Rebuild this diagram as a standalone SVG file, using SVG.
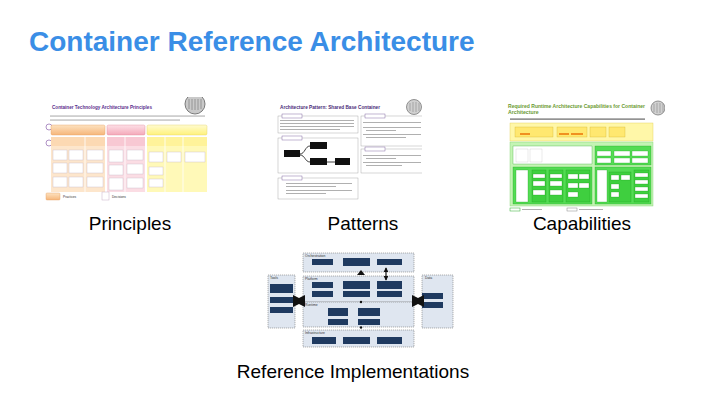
<svg xmlns="http://www.w3.org/2000/svg" width="720" height="405" viewBox="0 0 720 405">
<defs>
<style>
.title{font-family:"Liberation Sans",Arial,sans-serif;font-weight:bold;font-size:28px;fill:#3a8ee6}
.cap{font-family:"Liberation Sans",Arial,sans-serif;font-size:19px;fill:#000;text-anchor:middle}
.tiny{font-family:"Liberation Sans",Arial,sans-serif;font-size:3.4px;fill:#333}
.tl{font-family:"Liberation Sans",Arial,sans-serif;font-size:3.2px;fill:#333}
.gl{fill:#b0b0b0}
.wb{fill:#fff;stroke:#c8b8c8;stroke-width:0.4}
.pan{fill:#dfe6f0;stroke:#666;stroke-width:0.5;stroke-dasharray:1.2 0.8}
.nb{fill:#1f3a60}
.sec{fill:#fff;stroke:#9a9a9a;stroke-width:0.4}
.blk{fill:#111}
.gb{fill:#3fcf3f;stroke:#1a9a1a;stroke-width:0.3}
.gw{fill:#fff;stroke:#1a9a1a;stroke-width:0.3}
.cn{stroke:#111;stroke-width:0.8;fill:none}
</style>
<linearGradient id="gOr" x1="0" y1="0" x2="0" y2="1"><stop offset="0" stop-color="#fde2c0"/><stop offset="1" stop-color="#f6b67a"/></linearGradient>
<linearGradient id="gPk" x1="0" y1="0" x2="0" y2="1"><stop offset="0" stop-color="#fde0e6"/><stop offset="1" stop-color="#f4a9b9"/></linearGradient>
<linearGradient id="gYl" x1="0" y1="0" x2="0" y2="1"><stop offset="0" stop-color="#fffbd0"/><stop offset="1" stop-color="#fff27a"/></linearGradient>
<marker id="ah" viewBox="0 0 6 6" refX="5" refY="3" markerWidth="4" markerHeight="4" orient="auto-start-reverse"><path d="M0,0L6,3L0,6z" fill="#111"/></marker>
<clipPath id="c1"><rect x="40" y="97" width="170" height="110"/></clipPath>
<clipPath id="c2"><rect x="270" y="99" width="152" height="110"/></clipPath>
<clipPath id="c3"><rect x="500" y="99" width="165" height="115"/></clipPath>
</defs>
<rect width="720" height="405" fill="#fff"/>
<text class="title" x="29" y="51">Container Reference Architecture</text>

<!-- Thumbnail 1: Principles -->
<g id="principles" clip-path="url(#c1)">
<text x="52" y="109" font-family="Liberation Sans,Arial,sans-serif" font-size="5" font-weight="bold" fill="#5a2d8c" textLength="100" lengthAdjust="spacingAndGlyphs">Container Technology Architecture Principles</text>
<circle cx="195" cy="104" r="10" fill="#c9c9c9" stroke="#7a7a7a" stroke-width="1"/>
<path d="M189,99v10M192,99v11M195,99v11M198,99v11M201,99v10" stroke="#888" stroke-width="0.8"/>
<rect x="50" y="115.5" width="155" height="1.1" class="gl"/>
<rect x="50" y="119.5" width="130" height="1.1" class="gl"/>
<circle cx="49" cy="127" r="3" fill="#fff" stroke="#7a4aa0" stroke-width="0.6"/>
<circle cx="49" cy="143" r="3" fill="#fff" stroke="#7a4aa0" stroke-width="0.6"/>
<rect x="51" y="125" width="54" height="10" rx="1.5" fill="url(#gOr)" stroke="#e5a060" stroke-width="0.4"/>
<rect x="107" y="125" width="38" height="10" rx="1.5" fill="url(#gPk)" stroke="#e08898" stroke-width="0.4"/>
<rect x="147" y="125" width="60" height="10" rx="1.5" fill="url(#gYl)" stroke="#e0d060" stroke-width="0.4"/>
<rect x="51" y="137" width="54" height="55" fill="#fde6cc"/>
<rect x="107" y="137" width="38" height="55" fill="#fbdde4"/>
<rect x="147" y="137" width="60" height="55" fill="#fff9b8"/>
<path d="M85,137v55M125,137v55M165,137v55M183,137v55" stroke="#fff" stroke-width="0.8"/>
<rect x="51" y="137" width="54" height="9" fill="#fcd9b3"/>
<rect x="107" y="137" width="38" height="9" fill="#f8c8d3"/>
<rect x="147" y="137" width="60" height="9" fill="#fff39a"/>
<path d="M85,137v9M125,137v9M165,137v9M183,137v9" stroke="#fff" stroke-width="0.8"/>
<rect x="53" y="150" width="14" height="10" class="wb"/><rect x="69" y="150" width="14" height="10" class="wb"/><rect x="87" y="150" width="16" height="10" class="wb"/>
<rect x="53" y="163" width="14" height="10" class="wb"/><rect x="69" y="163" width="14" height="10" class="wb"/><rect x="87" y="163" width="16" height="10" class="wb"/>
<rect x="53" y="177" width="14" height="10" class="wb"/><rect x="69" y="177" width="14" height="10" class="wb"/><rect x="87" y="177" width="16" height="10" class="wb"/>
<rect x="109" y="150" width="14" height="12" class="wb"/><rect x="127" y="150" width="16" height="10" class="wb"/>
<rect x="109" y="165" width="14" height="10" class="wb"/><rect x="127" y="164" width="16" height="10" class="wb"/>
<rect x="109" y="178" width="14" height="12" class="wb"/><rect x="127" y="178" width="16" height="10" class="wb"/>
<rect x="149" y="152" width="14" height="10" class="wb"/><rect x="167" y="152" width="14" height="10" class="wb"/><rect x="185" y="152" width="20" height="10" class="wb"/>
<rect x="149" y="167" width="14" height="8" class="wb"/><rect x="149" y="179" width="14" height="8" class="wb"/>
<rect x="46" y="193" width="14" height="7" rx="1" fill="url(#gOr)" stroke="#e5a060" stroke-width="0.4"/>
<text class="tl" x="63" y="198">Practices</text>
<rect x="102" y="192" width="7" height="8" fill="#fff" stroke="#c8b0c8" stroke-width="0.5"/>
<text class="tl" x="112" y="198">Decisions</text>
</g>

<!-- Thumbnail 2: Patterns -->
<g id="patterns" clip-path="url(#c2)">
<text x="280" y="109" font-family="Liberation Sans,Arial,sans-serif" font-size="5" font-weight="bold" fill="#4a2a78" textLength="100" lengthAdjust="spacingAndGlyphs">Architecture Pattern: Shared Base Container</text>
<circle cx="414" cy="107" r="7.5" fill="#d0d0d0" stroke="#7a7a7a" stroke-width="0.8"/>
<path d="M410,103v8M413,102v10M416,102v10M419,103v8" stroke="#888" stroke-width="0.6"/>
<rect x="278" y="116" width="80" height="17" class="sec"/>
<rect x="282" y="114" width="20" height="4" fill="#fff" stroke="#6a4a90" stroke-width="0.4"/>
<rect x="280" y="120" width="74" height="1" class="gl"/><rect x="280" y="123" width="74" height="1" class="gl"/><rect x="280" y="126" width="74" height="1" class="gl"/><rect x="280" y="129" width="60" height="1" class="gl"/>
<rect x="278" y="138" width="80" height="35" class="sec"/>
<rect x="282" y="136" width="20" height="4" fill="#fff" stroke="#6a4a90" stroke-width="0.4"/>
<rect x="278" y="178" width="80" height="21" class="sec"/>
<rect x="282" y="176" width="20" height="4" fill="#fff" stroke="#6a4a90" stroke-width="0.4"/>
<rect x="286" y="183" width="66" height="1" class="gl"/><rect x="286" y="186" width="50" height="1" class="gl"/><rect x="286" y="190" width="66" height="1" class="gl"/><rect x="286" y="193" width="40" height="1" class="gl"/>
<rect x="361" y="116" width="62" height="30" class="sec"/>
<rect x="365" y="114" width="20" height="4" fill="#fff" stroke="#6a4a90" stroke-width="0.4"/>
<rect x="363" y="122" width="58" height="1" class="gl"/><rect x="363" y="127" width="58" height="1" class="gl"/><rect x="366" y="130" width="30" height="1" class="gl"/><rect x="363" y="134" width="58" height="1" class="gl"/><rect x="366" y="137" width="40" height="1" class="gl"/>
<rect x="361" y="149" width="62" height="24" class="sec"/>
<rect x="365" y="147" width="20" height="4" fill="#fff" stroke="#6a4a90" stroke-width="0.4"/>
<rect x="363" y="155" width="58" height="1" class="gl"/><rect x="366" y="158" width="30" height="1" class="gl"/><rect x="363" y="162" width="58" height="1" class="gl"/><rect x="366" y="165" width="36" height="1" class="gl"/>
<g id="pat-connectors">
<path class="cn" d="M300,154C305,154 305,146 310,146"/>
<path class="cn" d="M300,155C305,155 305,162 310,162"/>
<path class="cn" d="M327,162H335"/>
</g>
<rect x="284" y="150" width="16" height="7" class="blk"/>
<rect x="310" y="142" width="17" height="7" class="blk"/>
<rect x="310" y="158" width="17" height="7" class="blk"/>
<rect x="335" y="158" width="15" height="7" class="blk"/>
</g>

<!-- Thumbnail 3: Capabilities -->
<g id="capabilities" clip-path="url(#c3)">
<text x="508" y="108" font-family="Liberation Sans,Arial,sans-serif" font-size="5.2" font-weight="bold" fill="#6a9a30" textLength="137" lengthAdjust="spacingAndGlyphs">Required Runtime Architecture Capabilities for Container</text>
<text x="508" y="113.5" font-family="Liberation Sans,Arial,sans-serif" font-size="5.2" font-weight="bold" fill="#6a9a30">Architecture</text>
<circle cx="658" cy="108" r="7" fill="#d0d0d0" stroke="#7a7a7a" stroke-width="0.8"/>
<path d="M654,104v8M657,103v10M660,103v10M663,104v8" stroke="#888" stroke-width="0.6"/>
<rect x="510" y="118.5" width="135" height="1.2" fill="#666"/>
<rect x="510" y="123" width="143" height="18" fill="#fff7a8" stroke="#e0cc50" stroke-width="0.4"/>
<rect x="515" y="127" width="38" height="10" fill="#ffe870" stroke="#c8a820" stroke-width="0.3"/>
<rect x="520" y="133" width="10" height="2" fill="#f09020"/>
<rect x="557" y="127" width="30" height="10" fill="#ffe870" stroke="#c8a820" stroke-width="0.3"/>
<rect x="559" y="133" width="10" height="2" fill="#f09020"/><rect x="571" y="133" width="12" height="2" fill="#f09020"/>
<rect x="590" y="127" width="16" height="10" fill="#ffe870" stroke="#c8a820" stroke-width="0.3"/>
<rect x="609" y="127" width="16" height="10" fill="#ffe870" stroke="#c8a820" stroke-width="0.3"/>
<rect x="510" y="142" width="143" height="64" fill="#c4f4b4" stroke="#7ad06a" stroke-width="0.4"/>
<rect x="513" y="146" width="79" height="18" class="gw"/>
<rect x="516" y="149" width="12" height="13" fill="#fff" stroke="#bbb" stroke-width="0.3"/>
<rect x="530" y="149" width="12" height="13" fill="#fff" stroke="#bbb" stroke-width="0.3"/>
<rect x="595" y="146" width="56" height="19" fill="#54dc54" stroke="#1a9a1a" stroke-width="0.3"/>
<rect x="597" y="151" width="14" height="5" class="gw"/><rect x="597" y="158" width="14" height="5" class="gw"/>
<rect x="614" y="151" width="16" height="5" class="gw"/><rect x="614" y="158" width="16" height="5" class="gw"/>
<rect x="632" y="151" width="16" height="5" class="gw"/><rect x="632" y="158" width="16" height="5" class="gw"/>
<rect x="513" y="167" width="79" height="37" fill="#54dc54" stroke="#1a9a1a" stroke-width="0.3"/>
<rect x="516" y="170" width="12" height="32" class="gw"/>
<rect x="532" y="170" width="14" height="32" class="gb"/>
<rect x="533" y="174" width="12" height="4" class="gw"/><rect x="533" y="181" width="12" height="5" class="gw"/><rect x="533" y="190" width="12" height="5" class="gw"/>
<rect x="549" y="170" width="14" height="32" class="gb"/>
<rect x="550" y="174" width="12" height="4" class="gw"/><rect x="550" y="181" width="12" height="5" class="gw"/><rect x="550" y="190" width="12" height="5" class="gw"/>
<rect x="566" y="170" width="24" height="32" class="gb"/>
<rect x="568" y="174" width="10" height="5" class="gw"/><rect x="579" y="174" width="10" height="5" class="gw"/><rect x="568" y="183" width="10" height="5" class="gw"/><rect x="579" y="183" width="10" height="5" class="gw"/><rect x="568" y="192" width="10" height="5" class="gw"/>
<rect x="595" y="167" width="56" height="37" fill="#54dc54" stroke="#1a9a1a" stroke-width="0.3"/>
<rect x="597" y="170" width="10" height="32" class="gw"/>
<rect x="609" y="172" width="22" height="30" class="gb"/>
<rect x="611" y="175" width="8" height="5" class="gw"/><rect x="621" y="175" width="9" height="5" class="gw"/><rect x="611" y="184" width="8" height="5" class="gw"/><rect x="611" y="192" width="8" height="5" class="gw"/>
<rect x="634" y="170" width="15" height="32" class="gb"/>
<rect x="635" y="173" width="13" height="4" class="gw"/><rect x="635" y="180" width="13" height="4" class="gw"/><rect x="635" y="187" width="13" height="4" class="gw"/><rect x="635" y="194" width="13" height="4" class="gw"/>
<rect x="510" y="208" width="10" height="3" fill="#fff" stroke="#2aaa2a" stroke-width="0.5"/>
<rect x="522" y="209" width="20" height="1" class="gl"/>
<rect x="567" y="208" width="10" height="3" fill="#fff" stroke="#888" stroke-width="0.5"/>
<rect x="579" y="209" width="24" height="1" class="gl"/>
</g>

<!-- Thumbnail 4: Reference Implementations -->
<g id="reference-implementations">
<rect x="303" y="253" width="111" height="19" class="pan"/>
<text class="tiny" x="305" y="257">Orchestration</text>
<rect x="312" y="259" width="21" height="6" class="nb"/><rect x="343" y="258" width="27" height="8" class="nb"/><rect x="377" y="259" width="25" height="6" class="nb"/>
<rect x="303" y="276" width="111" height="26" class="pan"/>
<text class="tiny" x="305" y="280">Platform</text>
<rect x="312" y="282" width="21" height="6" class="nb"/><rect x="343" y="281" width="27" height="8" class="nb"/><rect x="377" y="281" width="25" height="8" class="nb"/>
<rect x="312" y="291" width="21" height="6" class="nb"/><rect x="343" y="291" width="27" height="6" class="nb"/><rect x="377" y="291" width="25" height="6" class="nb"/>
<rect x="303" y="302" width="111" height="25" class="pan"/>
<text class="tiny" x="305" y="306">Runtime</text>
<rect x="328" y="308" width="20" height="8" class="nb"/><rect x="358" y="308" width="22" height="8" class="nb"/>
<rect x="328" y="319" width="20" height="6" class="nb"/><rect x="358" y="319" width="22" height="6" class="nb"/>
<rect x="303" y="330" width="111" height="17" class="pan"/>
<text class="tiny" x="305" y="334">Infrastructure</text>
<rect x="312" y="337" width="24" height="7" class="nb"/><rect x="343" y="337" width="27" height="7" class="nb"/><rect x="377" y="337" width="25" height="7" class="nb"/>
<rect x="268" y="275" width="27" height="53" class="pan"/>
<text class="tiny" x="270" y="279">Tools</text>
<rect x="270" y="284" width="23" height="9" class="nb"/><rect x="270" y="297" width="23" height="6" class="nb"/><rect x="270" y="307" width="23" height="6" class="nb"/>
<rect x="422" y="275" width="31" height="53" class="pan"/>
<text class="tiny" x="425" y="279">Data</text>
<rect x="422" y="293" width="21" height="6" class="nb"/><rect x="422" y="302" width="21" height="6" class="nb"/>
</g>
<g id="ri-connectors">
<path d="M357,275L361,270L365,275z" fill="#111"/>
<path d="M386,268V280" stroke="#111" stroke-width="1.2" marker-start="url(#ah)" marker-end="url(#ah)"/>
<path d="M295,301H303" stroke="#111" stroke-width="3" marker-start="url(#ah)" marker-end="url(#ah)"/>
<path d="M414,301H422" stroke="#111" stroke-width="3" marker-start="url(#ah)" marker-end="url(#ah)"/>
<circle cx="361" cy="302" r="1.2" fill="#111"/>
<circle cx="361" cy="327.5" r="1.2" fill="#111"/>
</g>

<g id="captions">
<text class="cap" x="130" y="230">Principles</text>
<text class="cap" x="363" y="230">Patterns</text>
<text class="cap" x="582" y="230">Capabilities</text>
<text class="cap" x="353" y="378">Reference Implementations</text>
</g>
</svg>
